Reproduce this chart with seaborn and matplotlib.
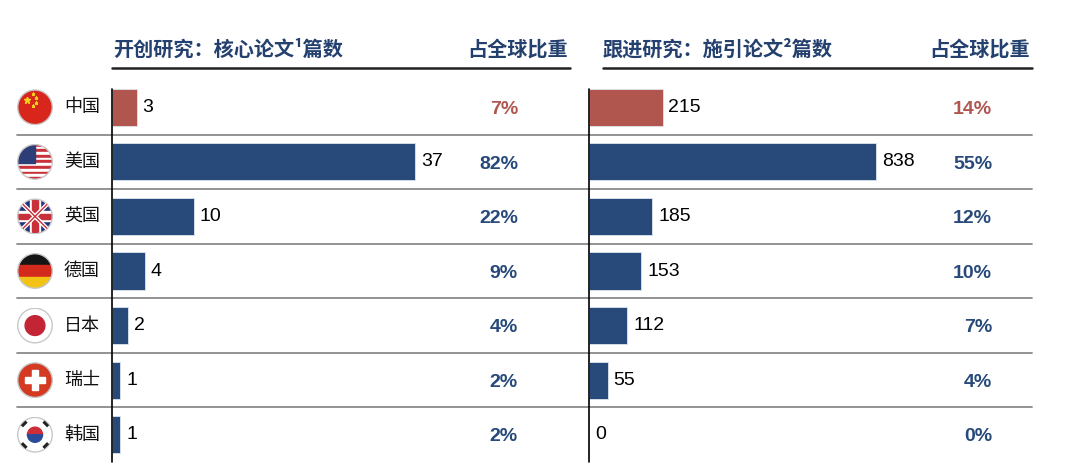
import numpy as np
import pandas as pd
import matplotlib
matplotlib.use("Agg")
import matplotlib.pyplot as plt
import matplotlib.transforms as mtransforms
from matplotlib.lines import Line2D
from matplotlib.patches import Circle, Rectangle, Wedge
import seaborn as sns

# data
countries = ['中国', '美国', '英国', '德国', '日本', '瑞士', '韩国']
flag_keys = ['cn', 'us', 'uk', 'de', 'jp', 'ch', 'kr']
core_papers = [3, 37, 10, 4, 2, 1, 1]
core_share = [7, 82, 22, 9, 4, 2, 2]
cited_papers = [215, 838, 185, 153, 112, 55, 0]
cited_share = [14, 55, 12, 10, 7, 4, 0]

left_title = '开创研究：核心论文¹篇数'
right_title = '跟进研究：施引论文²篇数'
share_title = '占全球比重'

RED = '#B0564F'
BLUE = '#274A7A'
NAVY = '#24406E'
bar_colors = [RED] + [BLUE] * (len(countries) - 1)

sns.set_theme(style="white")
plt.rcParams['font.family'] = ['Noto Sans CJK SC', 'DejaVu Sans']

W, H = 1080, 469
fig = plt.figure(figsize=(W / 100, H / 100), dpi=100)


def fx(px):
    return px / W


def fy(py):
    return 1 - py / H


row_top, row_bot = 80, 462
ax1 = fig.add_axes([fx(112), fy(row_bot), fx(570 - 112), (row_bot - row_top) / H])
ax2 = fig.add_axes([fx(589), fy(row_bot), fx(1032 - 589), (row_bot - row_top) / H])
for a in (ax1, ax2):
    a.patch.set_alpha(0)

df = pd.DataFrame({'country': countries, 'core': core_papers, 'cited': cited_papers})


def draw_panel(ax, col, xmax, shares, share_x):
    sns.barplot(data=df, x=col, y='country', hue='country', palette=bar_colors,
                orient='h', width=0.68, legend=False, ax=ax, saturation=1,
                edgecolor='#dfe5ee', linewidth=0.6)
    ax.set_xlim(0, xmax)
    ax.set_ylim(6.5, -0.5)
    ax.set_xticks([])
    ax.set_yticks([])
    ax.set_xlabel('')
    ax.set_ylabel('')
    for s in ax.spines.values():
        s.set_visible(False)
    ax.plot([0, 0], [-0.33, 6.5], color='black', lw=1.2, clip_on=False)
    pad = xmax * 0.013
    for i, v in enumerate(df[col]):
        ax.text(v + pad, i, f'{v}', va='center', ha='left', fontsize=14,
                family='Liberation Sans', color='black')
    blend = mtransforms.blended_transform_factory(fig.transFigure, ax.transData)
    for i, s in enumerate(shares):
        ax.text(share_x, i + 0.04, f'{s}%', transform=blend, va='center', ha='right',
                fontsize=14, fontweight='bold', family='Liberation Sans',
                color=RED if i == 0 else BLUE)


draw_panel(ax1, 'core', 458 / 8.19, core_share, fx(518))
draw_panel(ax2, 'cited', 443 / 0.3425, cited_share, fx(992))

# row separators
blend = mtransforms.blended_transform_factory(fig.transFigure, ax1.transData)
for b in np.arange(0.5, len(countries) - 1, 1.0):
    fig.add_artist(Line2D([fx(17), fx(1032)], [b, b], transform=blend,
                          color='#8a8a8a', lw=1.3, zorder=0))

# header lines and titles
for x0, x1 in [(112, 570), (603, 1032)]:
    fig.add_artist(Line2D([fx(x0), fx(x1)], [fy(68), fy(68)], color='#222222', lw=1.8))
fig.text(fx(113), fy(49), left_title, ha='left', va='center', fontsize=14.5,
         fontweight='bold', color=NAVY)
fig.text(fx(603), fy(49), right_title, ha='left', va='center', fontsize=14.5,
         fontweight='bold', color=NAVY)
fig.text(fx(568), fy(49), share_title, ha='right', va='center', fontsize=14.5,
         fontweight='bold', color=NAVY)
fig.text(fx(1030), fy(49), share_title, ha='right', va='center', fontsize=14.5,
         fontweight='bold', color=NAVY)

# country names
for i, c in enumerate(countries):
    ax1.text(fx(82), i, c, transform=blend, ha='center', va='center',
             fontsize=13, color='#111111')


def draw_flag(fax, key):
    fax.set_xlim(-1, 1)
    fax.set_ylim(-1, 1)
    fax.set_aspect('equal')
    fax.axis('off')
    fax.patch.set_alpha(0)
    clip = Circle((0, 0), 0.96, transform=fax.transData)
    arts = []
    if key == 'cn':
        arts.append(fax.add_patch(Rectangle((-1, -1), 2, 2, color='#D8261C')))
        arts += fax.plot([-0.45], [0.4], marker='*', ms=5, color='#F7D117')
        arts += fax.plot([-0.1, 0.05, 0.05, -0.1], [0.72, 0.5, 0.25, 0.05],
                         ls='none', marker='*', ms=2, color='#F7D117')
    elif key == 'us':
        for k in range(13):
            arts.append(fax.add_patch(Rectangle((-1, 1 - (k + 1) * 2 / 13), 2, 2 / 13,
                                                color='#C8303A' if k % 2 == 0 else 'white')))
        arts.append(fax.add_patch(Rectangle((-1, 1 - 14 / 13), 1.0, 14 / 13, color='#2D3D77')))
    elif key == 'uk':
        arts.append(fax.add_patch(Rectangle((-1, -1), 2, 2, color='#24347A')))
        arts += fax.plot([-1, 1], [-1, 1], color='white', lw=3)
        arts += fax.plot([-1, 1], [1, -1], color='white', lw=3)
        arts += fax.plot([-1, 1], [-1, 1], color='#C8303A', lw=1)
        arts += fax.plot([-1, 1], [1, -1], color='#C8303A', lw=1)
        arts.append(fax.add_patch(Rectangle((-1, -0.28), 2, 0.56, color='white')))
        arts.append(fax.add_patch(Rectangle((-0.28, -1), 0.56, 2, color='white')))
        arts.append(fax.add_patch(Rectangle((-1, -0.15), 2, 0.3, color='#C8303A')))
        arts.append(fax.add_patch(Rectangle((-0.15, -1), 0.3, 2, color='#C8303A')))
    elif key == 'de':
        arts.append(fax.add_patch(Rectangle((-1, 1 / 3), 2, 2 / 3, color='#151515')))
        arts.append(fax.add_patch(Rectangle((-1, -1 / 3), 2, 2 / 3, color='#D42A1E')))
        arts.append(fax.add_patch(Rectangle((-1, -1), 2, 2 / 3, color='#F2C315')))
    elif key == 'jp':
        arts.append(fax.add_patch(Rectangle((-1, -1), 2, 2, color='white')))
        arts.append(fax.add_patch(Circle((0, 0), 0.55, color='#C42535')))
    elif key == 'ch':
        arts.append(fax.add_patch(Rectangle((-1, -1), 2, 2, color='#D43A22')))
        arts.append(fax.add_patch(Rectangle((-0.55, -0.18), 1.1, 0.36, color='white')))
        arts.append(fax.add_patch(Rectangle((-0.18, -0.55), 0.36, 1.1, color='white')))
    elif key == 'kr':
        arts.append(fax.add_patch(Rectangle((-1, -1), 2, 2, color='white')))
        arts.append(fax.add_patch(Wedge((0, 0), 0.42, 0, 180, color='#CD2E3A')))
        arts.append(fax.add_patch(Wedge((0, 0), 0.42, 180, 360, color='#2A4A9A')))
        for sx, sy in [(-0.6, 0.6), (0.6, 0.6), (-0.6, -0.6), (0.6, -0.6)]:
            d = 0.13 * np.sign(sx * sy)
            arts += fax.plot([sx - 0.13, sx + 0.13], [sy + d, sy - d],
                             color='#222222', lw=2.2, solid_capstyle='butt')
    for a in arts:
        a.set_clip_path(clip)
    fax.add_patch(Circle((0, 0), 0.96, fill=False, ec='#c8c8c8', lw=1.0))


for i, key in enumerate(flag_keys):
    y_px = row_top + (i + 0.5) * (row_bot - row_top) / len(countries)
    fax = fig.add_axes([fx(35 - 18), fy(y_px + 18), fx(36), 36 / H])
    draw_flag(fax, key)

fig.savefig('out.png', dpi=100, facecolor='white')
